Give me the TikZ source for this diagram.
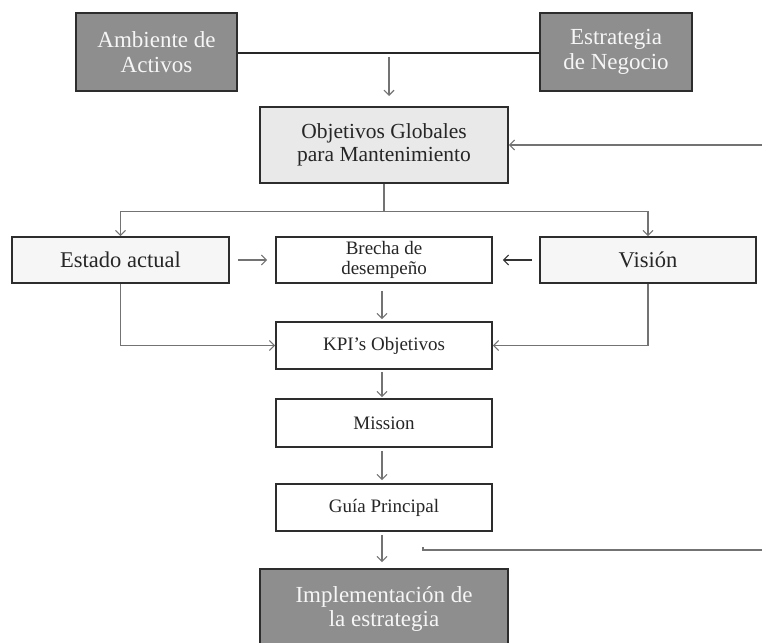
\documentclass[tikz,border=0pt]{standalone}
\usepackage{fontspec}
\setmainfont{Liberation Serif}
\usetikzlibrary{arrows.meta}

\definecolor{boxdark}{RGB}{142,142,142}
\definecolor{boxtextlight}{RGB}{246,246,246}
\definecolor{boxlight}{RGB}{233,233,233}
\definecolor{boxpale}{RGB}{246,246,246}
\definecolor{edgecol}{RGB}{45,45,45}
\definecolor{linkcol}{RGB}{115,115,115}

\tikzset{
  box/.style={draw=edgecol, line width=1.6pt, inner sep=2pt, align=center,
    text=black!85},
  darkbox/.style={box, fill=boxdark, text=boxtextlight,
    font=\fontsize{23}{24.5}\selectfont},
  lightbox/.style={box, fill=boxlight, font=\fontsize{21.5}{23}\selectfont},
  palebox/.style={box, fill=boxpale, font=\fontsize{22.5}{24}\selectfont},
  whitebox/.style={box, fill=white, font=\fontsize{19}{19.5}\selectfont},
  link/.style={draw=linkcol, line width=1.1pt},
  arr/.style={link, -{Straight Barb[length=5pt,width=10pt,line width=1.1pt]}},
}

\begin{document}
\begin{tikzpicture}[x=1pt,y=-1pt]
  \clip (0,0) rectangle (762,642);
  \fill[white] (0,0) rectangle (762,642);

  % top level inputs
  \node[darkbox, minimum width=161pt, minimum height=78pt] (amb) at (156.5,52) {Ambiente de\\Activos};
  \node[darkbox, minimum width=152pt, minimum height=78pt] (est) at (616,52) {Estrategia\\de Negocio};

  % global objectives
  \node[lightbox, minimum width=248pt, minimum height=76pt] (obj) at (384,145) {Objetivos Globales\\para Mantenimiento};

  % current state, gap and vision
  \node[palebox, minimum width=217pt, minimum height=46pt] (estado) at (120.5,260) {Estado actual};
  \node[whitebox, minimum width=216pt, minimum height=46pt] (brecha) at (384,260) {Brecha de\\desempeño};
  \node[palebox, minimum width=216pt, minimum height=46pt] (vision) at (648,260) {Visión};

  % chain down to implementation
  \node[whitebox, minimum width=216pt, minimum height=47pt] (kpi) at (384,345.5) {KPI’s Objetivos};
  \node[whitebox, minimum width=216pt, minimum height=48pt] (mission) at (384,423) {Mission};
  \node[whitebox, minimum width=216pt, minimum height=47pt] (guia) at (384,507.5) {Guía Principal};
  \node[darkbox, minimum width=248pt, minimum height=80pt] (impl) at (384,609) {Implementación de\\la estrategia};

  % free ends of the connectors
  \coordinate (topA) at (389,57);
  \coordinate (topB) at (389,96);
  \coordinate (fbIn) at (762,145);
  \coordinate (fbOut) at (762,550);
  \coordinate (fbEnd) at (423,550);

  % connectors
  \draw[draw=black!85, line width=1.6pt] (amb.east |- 0,53) -- (est.west |- 0,53);
  \draw[arr] (topA) -- (topB);
  \draw[arr] (fbIn) -- (obj.east);
  \draw[arr] (obj.south) -- ++(0,28) -| (estado.north);
  \draw[arr] (obj.south) -- ++(0,28) -| (vision.north);
  \draw[arr, shorten <=8pt, shorten >=8pt] (estado.east) -- (brecha.west);
  \draw[arr, draw=black!80, shorten <=7pt, shorten >=10pt] (vision.west) -- (brecha.east);
  \draw[arr, shorten <=7pt, shorten >=2pt] ([xshift=-2pt]brecha.south) -- ([xshift=-2pt]kpi.north);
  \draw[arr] (estado.south) |- (kpi.west);
  \draw[arr] (vision.south) |- (kpi.east);
  \draw[arr, shorten <=2pt, shorten >=1pt] ([xshift=-2pt]kpi.south) -- ([xshift=-2pt]mission.north);
  \draw[arr, shorten <=3pt, shorten >=3pt] ([xshift=-2pt]mission.south) -- ([xshift=-2pt]guia.north);
  \draw[arr, shorten <=3pt, shorten >=6pt] ([xshift=-2pt]guia.south) -- ([xshift=-2pt]impl.north);
  \draw[link] (fbOut) -- (fbEnd) -- ++(0,-3);
\end{tikzpicture}
\end{document}
